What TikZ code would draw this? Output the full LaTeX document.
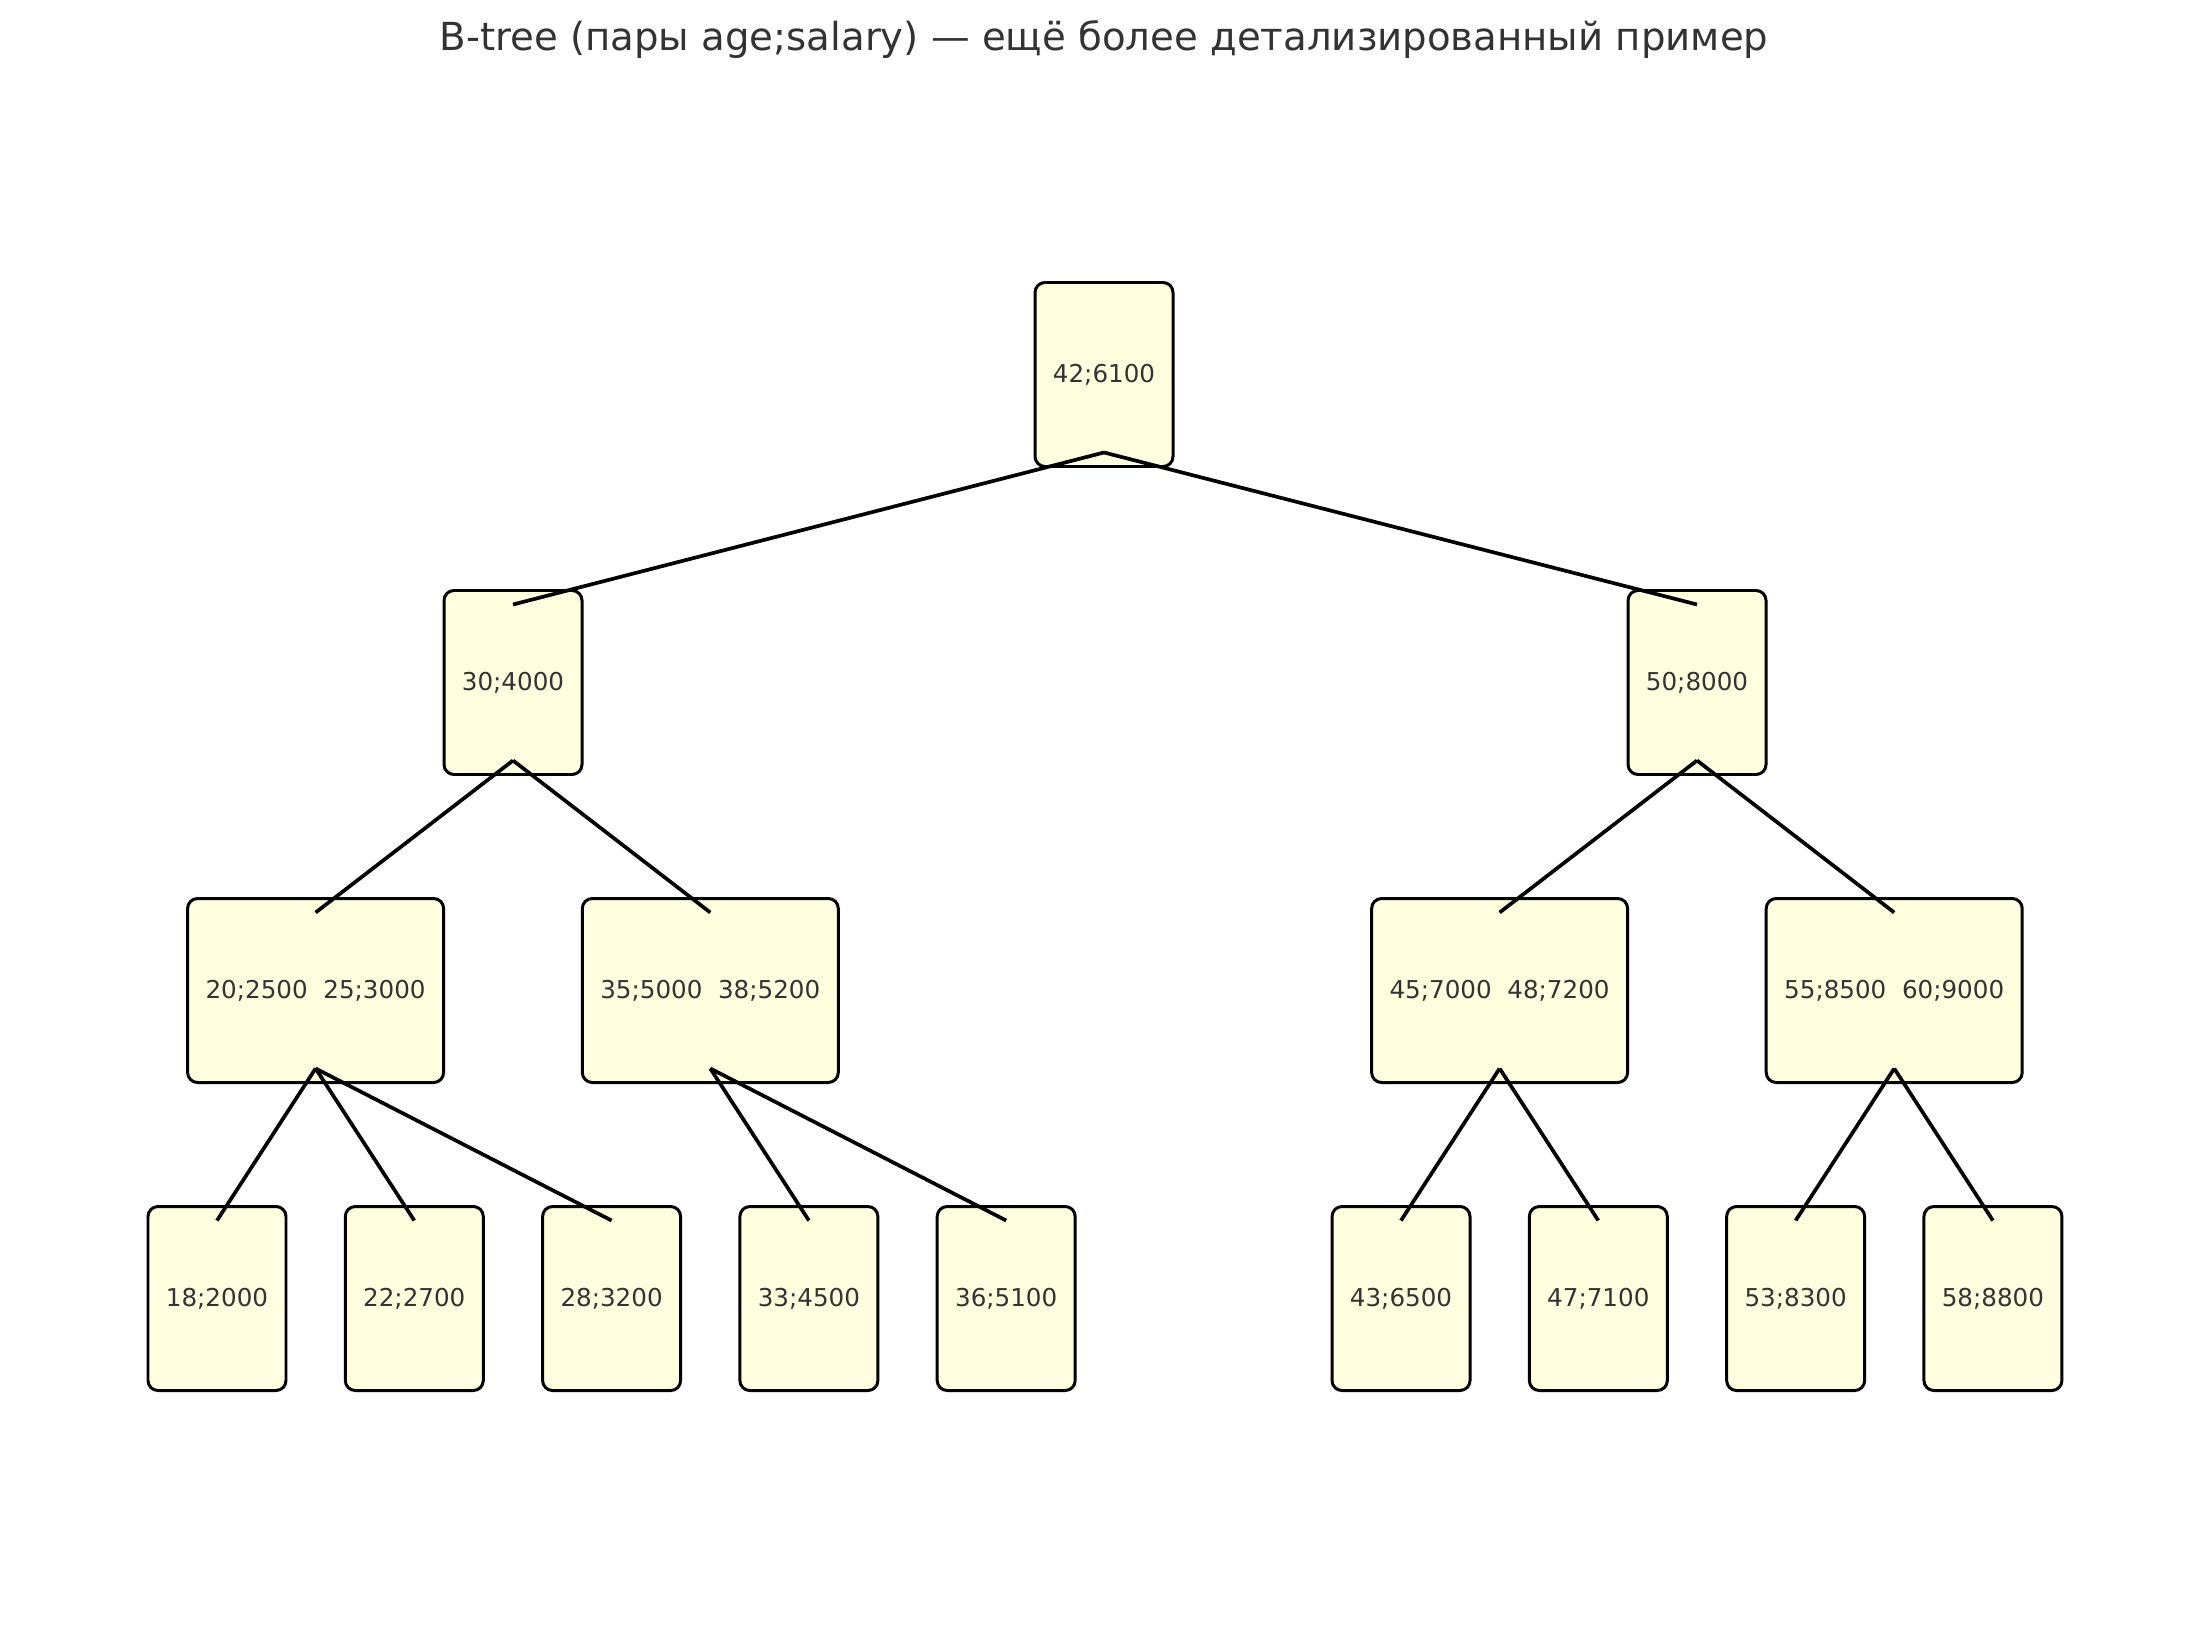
\documentclass[tikz,border=0pt]{standalone}
\usepackage{fontspec}
\setmainfont{DejaVu Sans}
\definecolor{boxfill}{HTML}{FFFFE0}
\definecolor{txt}{HTML}{333333}
\begin{document}
\begin{tikzpicture}[x=0.1mm,y=-0.1mm,
  keybox/.style={draw=black, fill=boxfill, rounded corners=1mm, line width=0.85pt,
    minimum height=18.4mm, minimum width=13.8mm, inner sep=0pt, text=txt,
    font=\fontsize{7}{8}\selectfont},
  widebox/.style={keybox, minimum width=25.6mm},
  edge/.style={draw=black, line width=1.05pt}]
\useasboundingbox (0,0) rectangle (2210,1627);
\node[text=txt, font=\fontsize{11}{13}\selectfont] (title) at (1104,40) {B-tree (пары age;salary) — ещё более детализированный пример};
% root
\node[keybox] (r) at (1104,374.5) {42;6100};
% level 2
\node[keybox] (a) at (513,682.5) {30;4000};
\node[keybox] (b) at (1697,682.5) {50;8000};
% level 3
\node[widebox] (a1) at (315.6,990.5) {20;2500\ \ 25;3000};
\node[widebox] (a2) at (710.3,990.5) {35;5000\ \ 38;5200};
\node[widebox] (b1) at (1499.6,990.5) {45;7000\ \ 48;7200};
\node[widebox] (b2) at (1894.2,990.5) {55;8500\ \ 60;9000};
% leaves
\node[keybox] (l1) at (217,1298.5) {18;2000};
\node[keybox] (l2) at (414.3,1298.5) {22;2700};
\node[keybox] (l3) at (611.6,1298.5) {28;3200};
\node[keybox] (l4) at (808.9,1298.5) {33;4500};
\node[keybox] (l5) at (1006.2,1298.5) {36;5100};
\node[keybox] (l6) at (1401,1298.5) {43;6500};
\node[keybox] (l7) at (1598.3,1298.5) {47;7100};
\node[keybox] (l8) at (1795.6,1298.5) {53;8300};
\node[keybox] (l9) at (1992.9,1298.5) {58;8800};
% edges
\foreach \p/\c in {r/a, r/b, a/a1, a/a2, b/b1, b/b2,
  a1/l1, a1/l2, a1/l3, a2/l4, a2/l5, b1/l6, b1/l7, b2/l8, b2/l9}
  \draw[edge] ([yshift=1.55mm]\p.south) -- ([yshift=-1.55mm]\c.north);
\end{tikzpicture}
\end{document}
